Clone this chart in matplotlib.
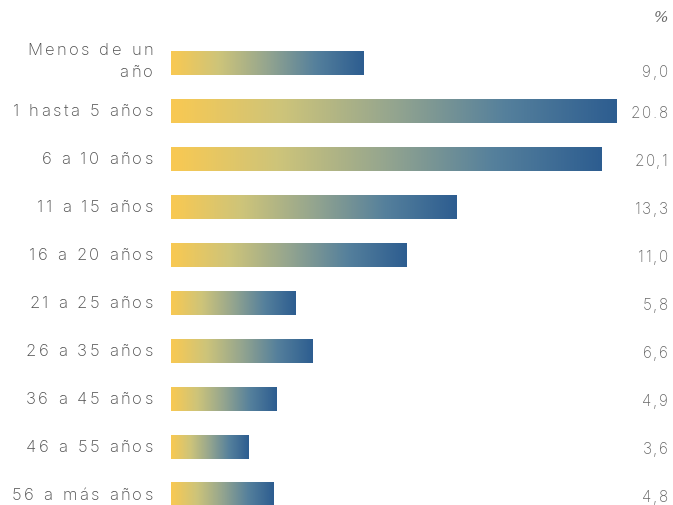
import numpy as np
import matplotlib.pyplot as plt
from matplotlib.colors import LinearSegmentedColormap
from matplotlib.transforms import IdentityTransform
from matplotlib.font_manager import FontProperties

categories = ["Menos de un\naño", "1 hasta 5 años", "6 a 10 años", "11 a 15 años",
              "16 a 20 años", "21 a 25 años", "26 a 35 años", "36 a 45 años",
              "46 a 55 años", "56 a más años"]
values = [9.0, 20.8, 20.1, 13.3, 11.0, 5.8, 6.6, 4.9, 3.6, 4.8]
value_labels = ["9,0", "20.8", "20,1", "13,3", "11,0", "5,8", "6,6", "4,9", "3,6", "4,8"]

W, H, DPI = 673, 505, 100

# yellow -> grey-green -> blue gradient used on every bar
cmap = LinearSegmentedColormap.from_list(
    "amarillo_azul", ["#f9c952", "#cdc47a", "#94a58f", "#55809c", "#2d5d90"])
grad = np.linspace(0, 1, 256).reshape(1, -1)

FAMILY = "Inter"

fig = plt.figure(figsize=(W / DPI, H / DPI), dpi=DPI)
fig.patch.set_facecolor("white")
renderer = fig.canvas.get_renderer()


def advances(s, size):
    # horizontal advance of each character in pixels, measured between two bars
    prop = FontProperties(family=FAMILY, size=size, weight="light")
    ref = renderer.get_text_width_height_descent("||", prop, ismath=False)[0]
    return [renderer.get_text_width_height_descent("|" + c + "|", prop, ismath=False)[0] - ref
            for c in s]


def tracked_text(x, y, s, size, color, tracking, ha="right"):
    # draws s with extra letter spacing; x, y in pixels from the top-left, y is baseline
    adv = advances(s, size)
    total = sum(adv) + tracking * (len(s) - 1)
    x0 = x - total if ha == "right" else x
    for c, a in zip(s, adv):
        if c != " ":
            fig.text(x0, H - y, c, transform=IdentityTransform(), ha="left",
                     va="baseline", fontsize=size, color=color, family=FAMILY,
                     weight="light")
        x0 += a + tracking


ax = fig.add_axes([171 / W, 0, (W - 171) / W, 1])

px = 21.44   # pixels per percentage point
row = 48.0   # pixels between bars
ax.set_xlim(0, (W - 171) / px)
ax.set_ylim((H - 63) / row, -63 / row)

bar_h = 0.5
for i, v in enumerate(values):
    ax.imshow(grad, cmap=cmap, aspect="auto", interpolation="bicubic",
              extent=[0, v, i + bar_h / 2, i - bar_h / 2], zorder=2)
ax.axis("off")

lab_size, val_size = 12.0, 11.0
lab_track = (140 - sum(advances("1 hasta 5 años", lab_size))) / 13
val_track = (37 - sum(advances("20.8", val_size))) / 3

for i, cat in enumerate(categories):
    centre = 63 + row * i
    lines = cat.split("\n")
    if len(lines) == 2:
        tracked_text(153, 55, lines[0], lab_size, "#4d4d4d", lab_track)
        tracked_text(153, 77, lines[1], lab_size, "#4d4d4d", lab_track)
    else:
        tracked_text(153, centre + 5, cat, lab_size, "#4d4d4d", lab_track)

for i, lab in enumerate(value_labels):
    base = 77 if i == 0 else 63 + row * i + 7
    tracked_text(668, base, lab, val_size, "#666666", val_track)

fig.text(661, H - 22, "%", transform=IdentityTransform(), ha="center",
         va="baseline", fontsize=11, color="#666666", family="DejaVu Serif",
         style="italic")

fig.savefig("out.png", dpi=DPI, facecolor="white")
